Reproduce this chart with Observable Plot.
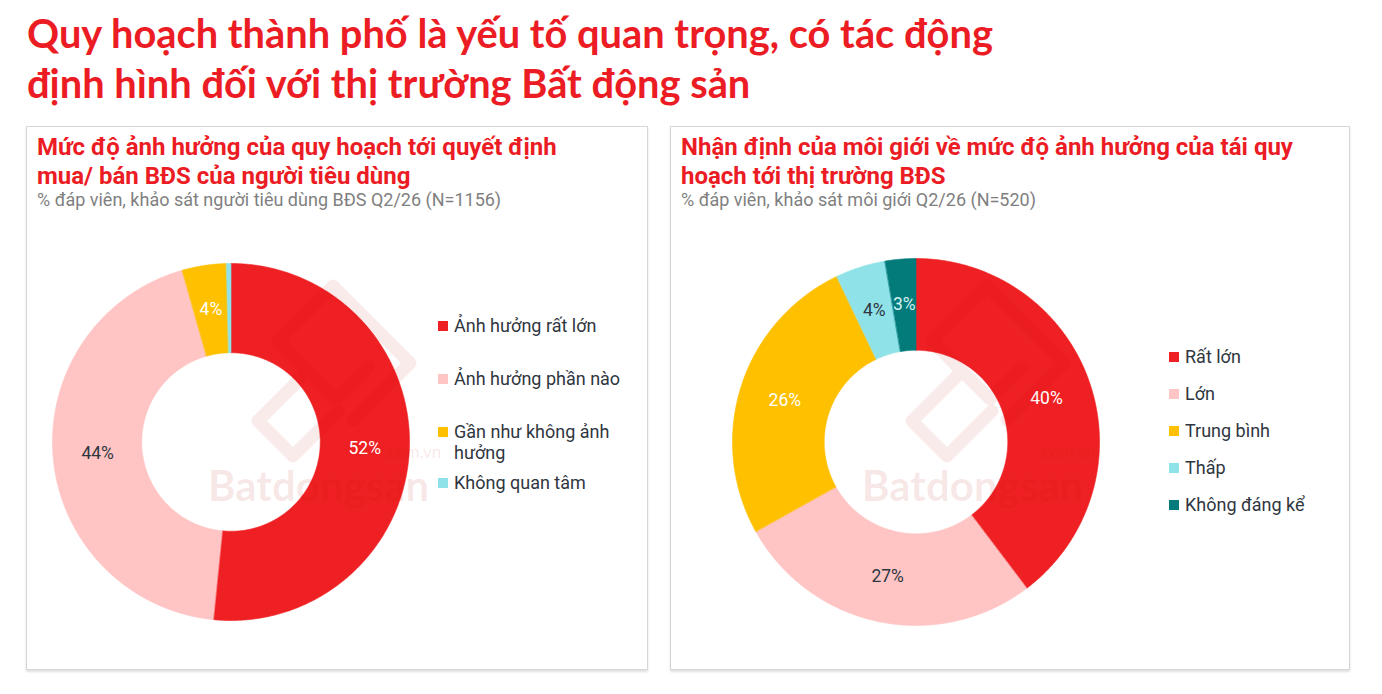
<!DOCTYPE html>
<html><head><meta charset="utf-8">
<script src="https://cdn.jsdelivr.net/npm/d3@7"></script>
<script src="https://cdn.jsdelivr.net/npm/@observablehq/plot@0.6"></script>
<style>
html,body{margin:0;padding:0;background:#fff;}
body{width:1382px;height:694px;position:relative;overflow:hidden;font-family:Roboto,"Noto Sans",sans-serif;}
#title{position:absolute;left:27px;top:8px;font-family:Lato,"Noto Sans",sans-serif;font-weight:700;font-size:39.8px;line-height:50px;color:#ec1c24;white-space:nowrap;}
.panel{position:absolute;top:126px;height:542px;border:1px solid #d6d6d6;box-shadow:0 2px 2px rgba(0,0,0,0.12);background:#fff;}
.ptitle{position:absolute;left:10px;top:6px;font-weight:700;font-size:24px;line-height:29px;color:#ec1c24;white-space:nowrap;}
.psub{position:absolute;left:10px;top:62px;font-size:18px;color:#7f7f7f;white-space:nowrap;}
.legend{position:absolute;font-size:18px;color:#2f3640;line-height:21px;}
.legend .item{position:relative;padding-left:16px;}
.legend .sw{position:absolute;left:0;top:6px;width:10px;height:10px;}
.wm{position:absolute;font-family:Lato,"Noto Sans",sans-serif;color:rgba(190,0,0,0.10);pointer-events:none;white-space:nowrap;line-height:1;}
.logo{position:absolute;pointer-events:none;}
</style></head><body>
<div id="title">Quy hoạch thành phố là yếu tố quan trọng, có tác động<br>định hình đối với thị trường Bất động sản</div>
<div class="panel" id="p1" style="left:26px;width:620px;">
  <div class="ptitle">Mức độ ảnh hưởng của quy hoạch tới quyết định<br>mua/ bán BĐS của người tiêu dùng</div>
  <div class="psub">% đáp viên, khảo sát người tiêu dùng BĐS Q2/26 (N=1156)</div>
</div>
<div class="panel" id="p2" style="left:670px;width:678px;">
  <div class="ptitle">Nhận định của môi giới về mức độ ảnh hưởng của tái quy<br>hoạch tới thị trường BĐS</div>
  <div class="psub">% đáp viên, khảo sát môi giới Q2/26 (N=520)</div>
</div>
<script>
// ---- Data ----
const consumerCategories = ["Ảnh hưởng rất lớn", "Ảnh hưởng phần nào", "Gần như không ảnh hưởng", "Không quan tâm"];
const consumerValues = [51.6, 44.0, 4.0, 0.4];
const brokerCategories = ["Rất lớn", "Lớn", "Trung bình", "Thấp", "Không đáng kể"];
const brokerValues = [39.7, 27.2, 26.0, 4.4, 2.7];

// ---- Styles ----
const consumerColors = ["#ef2023", "#ffc5c4", "#ffc000", "#8fe3e8"];
const brokerColors = ["#ef2023", "#ffc5c4", "#ffc000", "#8fe3e8", "#037b7a"];
const consumerLabelInk = ["#ffffff", "#2f3640", "#ffffff", "#2f3640"];
const brokerLabelInk = ["#ffffff", "#2f3640", "#ffffff", "#2f3640", "#d2f2f2"];

function donut(cats, vals, colors, ink, size) {
  const total = d3.sum(vals);
  const arcs = d3.pie().sort(null).value(d => d)(vals);
  const rIn = 0.5, rOut = 1;
  const pts = [];
  arcs.forEach((p, i) => {
    const span = p.endAngle - p.startAngle;
    const n = Math.max(2, Math.ceil(span / 0.01));
    for (let k = 0; k <= n; k++) {
      const a = p.startAngle + span * k / n;
      pts.push({cat: cats[i], x: rOut * Math.sin(a), y: rOut * Math.cos(a)});
    }
    for (let k = n; k >= 0; k--) {
      const a = p.startAngle + span * k / n;
      pts.push({cat: cats[i], x: rIn * Math.sin(a), y: rIn * Math.cos(a)});
    }
  });
  const labels = arcs.filter(p => p.value / total >= 0.01).map(p => {
    const a = (p.startAngle + p.endAngle) / 2;
    return {x: 0.75 * Math.sin(a), y: 0.75 * Math.cos(a), text: Math.round(p.value) + "%", ink: ink[p.index]};
  });
  const inks = Array.from(new Set(labels.map(d => d.ink)));
  return Plot.plot({
    width: size, height: size, margin: 0,
    style: {background: "transparent", overflow: "visible"},
    x: {domain: [-1, 1], axis: null},
    y: {domain: [-1, 1], axis: null},
    color: {domain: cats, range: colors},
    marks: [
      Plot.line(pts, {x: "x", y: "y", z: "cat", fill: "cat", stroke: "cat", strokeWidth: 0.6, curve: "linear-closed"}),
      ...inks.map(c => Plot.text(labels.filter(d => d.ink === c), {x: "x", y: "y", text: "text", fill: c, fontSize: 17.5, fontFamily: "Roboto, sans-serif"}))
    ]
  });
}

function legend(cats, colors, gaps, width) {
  const div = document.createElement("div");
  div.className = "legend";
  div.style.width = width + "px";
  cats.forEach((c, i) => {
    const it = document.createElement("div");
    it.className = "item";
    it.style.marginTop = gaps[i] + "px";
    const sw = document.createElement("span");
    sw.className = "sw";
    sw.style.background = colors[i];
    it.appendChild(sw);
    it.appendChild(document.createTextNode(c));
    div.appendChild(it);
  });
  return div;
}

function place(el, parent, left, top) {
  el.style.position = "absolute";
  el.style.left = left + "px";
  el.style.top = top + "px";
  parent.appendChild(el);
}

const p1 = document.getElementById("p1");
const p2 = document.getElementById("p2");

const c1 = donut(consumerCategories, consumerValues, consumerColors, consumerLabelInk, 357);
place(c1, p1, 230 - 178.5 - 27, 441 - 178.5 - 127);
const c2 = donut(brokerCategories, brokerValues, brokerColors, brokerLabelInk, 367);
place(c2, p2, 915.5 - 183.5 - 671, 441 - 183.5 - 127);

const l1 = legend(consumerCategories, consumerColors, [0, 32, 32, 9], 196);
place(l1, p1, 438 - 27, 315 - 127);
const l2 = legend(brokerCategories, brokerColors, [0, 16, 16, 16, 16], 170);
place(l2, p2, 1169 - 671, 346 - 127);

// faint brand watermark overlay (logo outline + wordmark)
function wm(parent, left, top) {
  const ns = "http://www.w3.org/2000/svg";
  const svg = document.createElementNS(ns, "svg");
  svg.setAttribute("width", 200); svg.setAttribute("height", 190);
  svg.setAttribute("class", "logo");
  const path = document.createElementNS(ns, "path");
  path.setAttribute("d",
    "M95,12 L172,89 L115,146 M95,12 L40,67 L98,125 L130,93 M70,97 L20,147 L55,182 L100,137");
  path.setAttribute("fill", "none");
  path.setAttribute("stroke", "rgba(190,0,0,0.08)");
  path.setAttribute("stroke-width", 13);
  path.setAttribute("stroke-linejoin", "round");
  path.setAttribute("stroke-linecap", "round");
  svg.appendChild(path);
  place(svg, parent, left + 30, top - 190);
  const a = document.createElement("div");
  a.className = "wm"; a.style.fontSize = "42px"; a.style.fontWeight = "700";
  a.textContent = "Batdongsan";
  place(a, parent, left, top);
  const b = document.createElement("div");
  b.className = "wm"; b.style.fontSize = "17px"; b.style.fontWeight = "400";
  b.textContent = ".com.vn";
  place(b, parent, left + 176, top - 21);
}
wm(p1, 208 - 27, 464 - 127);
wm(p2, 862 - 671, 464 - 127);
</script>
</body></html>
